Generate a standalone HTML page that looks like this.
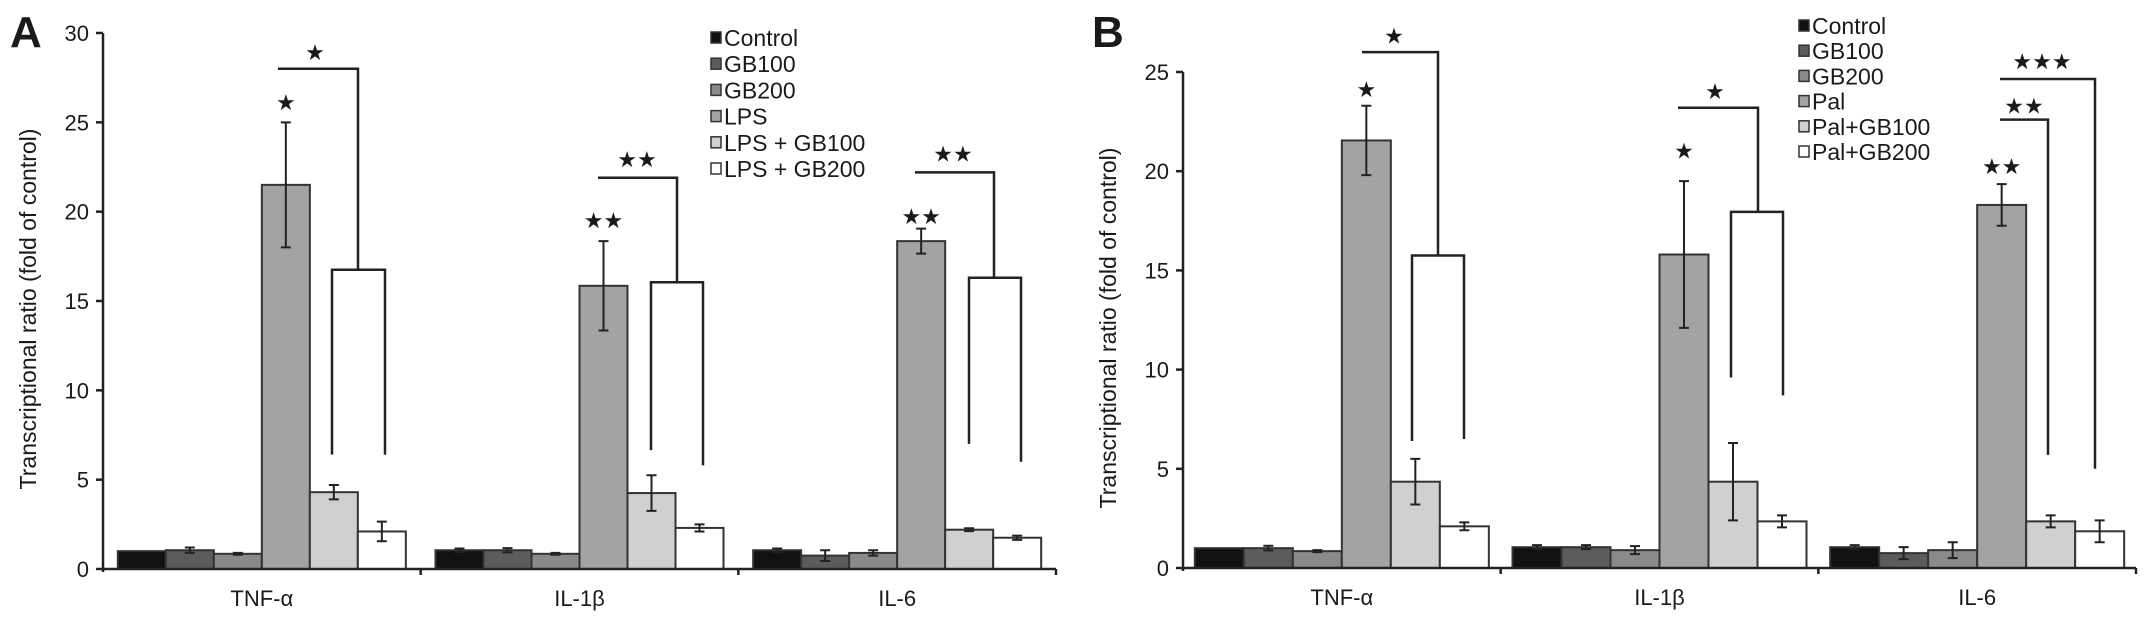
<!DOCTYPE html>
<html><head><meta charset="utf-8"><style>
html,body{margin:0;padding:0;background:#fff;}
svg{display:block;}
text{font-family:"Liberation Sans",Arial,sans-serif;fill:#1a1a1a;}
</style></head><body>
<svg id="chart" width="2150" height="626" viewBox="0 0 2150 626" xmlns="http://www.w3.org/2000/svg"></svg>
<script>
const NS="http://www.w3.org/2000/svg";
const categories=["TNF-α","IL-1β","IL-6"];
const seriesA=["Control","GB100","GB200","LPS","LPS + GB100","LPS + GB200"];
const seriesB=["Control","GB100","GB200","Pal","Pal+GB100","Pal+GB200"];
const colors=["#111111","#5c5c5c","#8a8a8a","#a3a3a3","#d0d0d0","#ffffff"];
// Panel A values [category][series]
const valuesA=[[1.0,1.05,0.85,21.5,4.3,2.1],[1.05,1.05,0.85,15.85,4.25,2.3],[1.05,0.75,0.9,18.35,2.2,1.75]];
const errorsA=[[0,0.15,0.05,3.5,0.4,0.55],[0.1,0.12,0.05,2.5,1.0,0.2],[0.1,0.3,0.15,0.7,0.08,0.12]];
const valuesB=[[1.0,1.0,0.85,21.55,4.35,2.1],[1.05,1.05,0.9,15.8,4.35,2.35],[1.05,0.75,0.9,18.3,2.35,1.85]];
const errorsB=[[0,0.12,0.05,1.75,1.15,0.2],[0.1,0.1,0.2,3.7,1.95,0.3],[0.1,0.3,0.4,1.05,0.3,0.55]];
const ticksA=[0,5,10,15,20,25,30];
const ticksB=[0,5,10,15,20,25];
// star labels above bars: [category, series, label, value]
const barStarsA=[[0,3,"*",26.2],[1,3,"**",19.6],[2,3,"**",19.8]];
const barStarsB=[[0,3,"*",24.2],[1,3,"*",21.1],[2,3,"**",20.3]];

function el(tag,attrs,parent,txt){const e=document.createElementNS(NS,tag);for(const k in attrs)e.setAttribute(k,attrs[k]);if(txt!==undefined)e.textContent=txt;(parent||svg).appendChild(e);return e;}
const svg=document.getElementById('chart');

function panel(cfg){
  const g=el('g',{});
  
  
  const y=v=>cfg.y0-(v/cfg.ymax)*(cfg.y0-cfg.ytop);
  const gw=(cfg.xend-cfg.x0)/categories.length;
  const bw=cfg.bw;
  const pad=(gw-6*bw)/2;
  const bx=(c,s)=>cfg.x0+c*gw+pad+s*bw;
  const bc=(c,s)=>bx(c,s)+bw/2;
  const L=el('text',{x:cfg.letterX,y:cfg.letterY,'font-size':44,'font-weight':'bold',fill:'#111'},g,cfg.letter);
  
  const ya=el('line',{x1:cfg.x0,y1:y(cfg.ticks[cfg.ticks.length-1]),x2:cfg.x0,y2:cfg.y0+3,stroke:'#222','stroke-width':2.5},g);
  
  cfg.ticks.forEach(t=>{
    el('line',{x1:cfg.x0-7,y1:y(t),x2:cfg.x0,y2:y(t),stroke:'#222','stroke-width':2.5},g);
    const tl=el('text',{x:cfg.x0-14,y:y(t)+8,'font-size':22,'text-anchor':'end'},g,t);
    
  });
  const yt=el('text',{x:0,y:0,'font-size':23,'text-anchor':'middle',transform:`translate(${cfg.titleX},${(cfg.y0+cfg.ytop)/2+8}) rotate(-90)`},g,'Transcriptional ratio (fold of control)');
  
  categories.forEach((cat,c)=>{
    cfg.values[c].forEach((v,s)=>{
      const r=el('rect',{x:bx(c,s),y:y(v),width:bw,height:cfg.y0-y(v),fill:colors[s],stroke:'#333','stroke-width':2},g);
      
      
      const e=cfg.errors[c][s];
      if(e>0){
        const cx=bc(c,s);
        const eb=el('path',{d:`M${cx},${y(v-e)}V${y(v+e)}M${cx-5},${y(v-e)}H${cx+5}M${cx-5},${y(v+e)}H${cx+5}`,stroke:'#222','stroke-width':2,fill:'none'},g);
        
      }
    });
    const cl=el('text',{x:cfg.x0+c*gw+gw/2,y:cfg.y0+37,'font-size':22,'text-anchor':'middle'},g,cat);
    
  });
  const xa=el('line',{x1:cfg.x0,y1:cfg.y0,x2:cfg.xend,y2:cfg.y0,stroke:'#222','stroke-width':2.5},g);
  
  for(let i=1;i<=3;i++)el('line',{x1:cfg.x0+i*gw,y1:cfg.y0,x2:cfg.x0+i*gw,y2:cfg.y0+6,stroke:'#222','stroke-width':2.5},g);
  cfg.barStars.forEach(b=>{
    const st=el('text',{x:bc(b[0],b[1]),y:y(b[3])+9,'font-size':22,'text-anchor':'middle','letter-spacing':0,fill:'#111',style:'font-family:"DejaVu Sans",sans-serif'},g,b[2].replace(/\*/g,'★'));
    
  });
  cfg.brackets.forEach(br=>{
    const p=el('path',{d:br.d(y),stroke:'#222','stroke-width':2.5,fill:'none'},g);
    
    const st=el('text',{x:br.sx,y:y(br.sv)+9,'font-size':22,'text-anchor':'middle','letter-spacing':0,fill:'#111',style:'font-family:"DejaVu Sans",sans-serif'},g,br.label.replace(/\*/g,'★'));
    
  });
  cfg.series.forEach((s,i)=>{
    const ly=cfg.legY+i*cfg.legDy;
    const lg=el('g',{},g);
    
    el('rect',{x:cfg.legX,y:ly-6,width:10,height:11,fill:colors[i],stroke:'#333','stroke-width':1.5},lg);
    el('text',{x:cfg.legX+13,y:ly+8,'font-size':23},lg,s);
  });
}
function br4(x1,x2,x3,x4,top,mid,bl,brr){return y=>`M${x1},${y(top)}H${x2}V${y(mid)}M${x3},${y(bl)}V${y(mid)}H${x4}V${y(brr)}`;}
panel({id:'panel-a',letter:'A',letterX:10,letterY:47,x0:103,xend:1056,y0:569,ytop:33,ymax:30,ticks:ticksA,bw:48,
  values:valuesA,errors:errorsA,series:seriesA,barStars:barStarsA,titleX:36,
  legX:711,legY:38,legDy:26.2,
  brackets:[
    {d:br4(278,358,332,385,28,16.75,6.4,6.4),sx:315,sv:29,label:'*'},
    {d:br4(598,677,651,703,21.9,16.05,6.65,5.8),sx:637,sv:23,label:'**'},
    {d:br4(915,994,969,1021,22.2,16.3,7.0,6.0),sx:953,sv:23.3,label:'**'}
  ]});
panel({id:'panel-b',letter:'B',letterX:1092,letterY:47,x0:1183,xend:2136,y0:568,ytop:72,ymax:25,ticks:ticksB,bw:49,
  values:valuesB,errors:errorsB,series:seriesB,barStars:barStarsB,titleX:1116,
  legX:1799,legY:26,legDy:25.2,
  brackets:[
    {d:br4(1362,1438,1412,1464,26.0,15.75,6.4,6.5),sx:1394,sv:26.9,label:'*'},
    {d:br4(1678,1758,1731,1783,23.2,17.95,9.6,8.7),sx:1715,sv:24.1,label:'*'},
    {d:y=>`M2000,${y(22.6)}H2048V${y(5.7)}M2000,${y(24.65)}H2095V${y(5.0)}`,sx:2024,sv:23.35,label:'**'},
    {d:y=>'',sx:2042,sv:25.6,label:'***'}
  ]});
</script>
</body></html>
